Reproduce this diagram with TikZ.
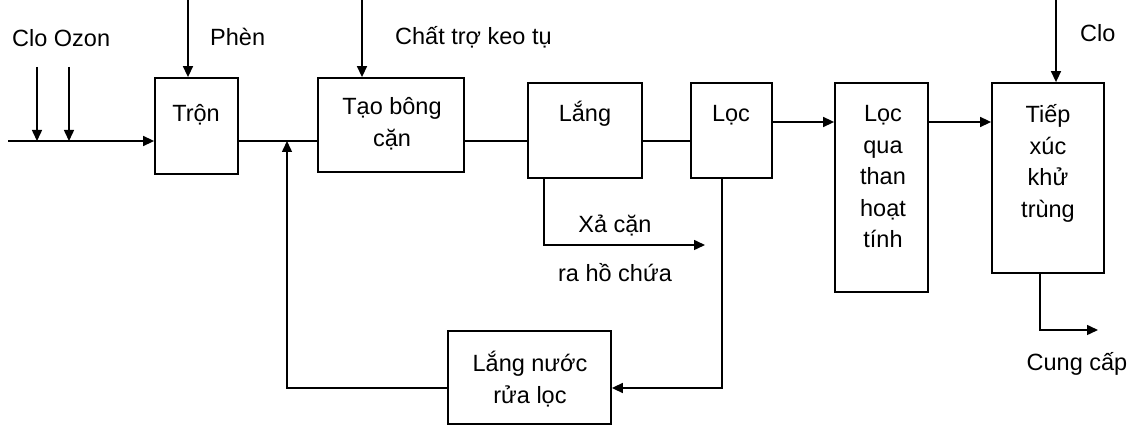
\documentclass[tikz,border=0pt]{standalone}
\usepackage{fontspec}
\setmainfont{Liberation Sans}
\usetikzlibrary{arrows.meta}
\newcommand\fs{\fontsize{23.5}{31.5}\selectfont}
\tikzset{
  box/.style={draw, line width=1.8pt, inner sep=0pt},
  lab/.style={font=\fs, inner sep=0pt},
  ln/.style={line width=1.5pt},
  arr/.style={line width=1.5pt, -{Triangle[length=11pt,width=10pt]}},
}
\begin{document}
\begin{tikzpicture}[x=1pt,y=-1pt]
\useasboundingbox (0,0) rectangle (1133,427);
% boxes
\node[box, minimum width=83pt, minimum height=96pt] (tron) at (196.5,126) {};
\node[box, minimum width=146pt, minimum height=94pt] (tao) at (391,125) {};
\node[box, minimum width=114pt, minimum height=95pt] (lang) at (585,130.5) {};
\node[box, minimum width=81pt, minimum height=95pt] (loc) at (731.5,130.5) {};
\node[box, minimum width=93pt, minimum height=209pt] (than) at (881.5,187.5) {};
\node[box, minimum width=112pt, minimum height=190pt] (tiep) at (1048,178) {};
\node[box, minimum width=163pt, minimum height=93pt] (lnr) at (529.5,377.5) {};
% box texts
\node[lab, anchor=base] (ttron) at (196,122) {Trộn};
\node[lab, align=center, anchor=north] (ttao) at (392,92.6) {\strut Tạo bông\\cặn};
\node[lab, anchor=base] (tlang) at (585,122) {Lắng};
\node[lab, anchor=base] (tloc) at (731,122) {Lọc};
\node[lab, align=center, anchor=north] (tthan) at (883,99.6) {\strut Lọc\\qua\\than\\hoạt\\tính};
\node[lab, align=center, anchor=north] (ttiep) at (1048,100.6) {\strut Tiếp\\xúc\\khử\\trùng};
\node[lab, align=center, anchor=north] (tlnr) at (530,349.6) {\strut Lắng nước\\rửa lọc};
% free labels
\node[lab, anchor=base west] (lclo) at (12,47) {Clo Ozon};
\node[lab, anchor=base west] (lphen) at (210,46) {Phèn};
\node[lab, anchor=base west] (lct) at (395,45) {Chất trợ keo tụ};
\node[lab, anchor=base west] (lclo2) at (1080,42) {Clo};
\node[lab, anchor=base] (lxa) at (615,233) {Xả cặn};
\node[lab, anchor=base] (lra) at (615,282) {ra hồ chứa};
\node[lab, anchor=base] (lcc) at (1077,371) {Cung cấp};
% coordinates
\coordinate (in) at (8,141);
\coordinate (m) at (0,141);
\coordinate (m2) at (0,122);
\coordinate (c1) at (37,67);
\coordinate (c2) at (69,67);
\coordinate (ph) at (188,0);
\coordinate (ct) at (362,0);
\coordinate (cl) at (1056,0);
\coordinate (j) at (287,141);
\coordinate (xa) at (705,245);
\coordinate (fb) at (0,388);
\coordinate (out) at (1098,330);
% connectors
\draw[arr] (in) -- (in -| tron.west);
\draw[arr] (c1) -- (c1 |- in);
\draw[arr] (c2) -- (c2 |- in);
\draw[arr] (ph) -- (ph |- tron.north);
\draw[arr] (ct) -- (ct |- tao.north);
\draw[arr] (cl) -- (cl |- tiep.north);
\draw[ln] (m -| tron.east) -- (m -| tao.west);
\draw[ln] (m -| tao.east) -- (m -| lang.west);
\draw[ln] (m -| lang.east) -- (m -| loc.west);
\draw[arr] (m2 -| loc.east) -- (m2 -| than.west);
\draw[arr] (m2 -| than.east) -- (m2 -| tiep.west);
\draw[arr] ([xshift=17pt]lang.south west) |- (xa);
\draw[arr] ([xshift=32pt]loc.south west) |- (fb -| lnr.east);
\draw[arr] (fb -| lnr.west) -| (j);
\draw[arr] ([xshift=-8pt]tiep.south) |- (out);
\end{tikzpicture}
\end{document}
